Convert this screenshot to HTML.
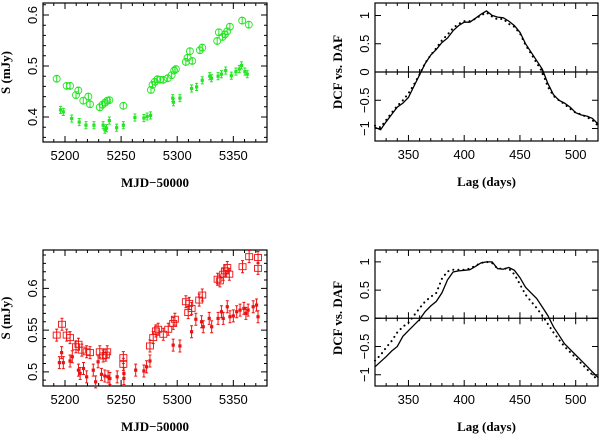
<!DOCTYPE html>
<html><head><meta charset="utf-8"><style>
body{margin:0;background:#fff;width:600px;height:436px;overflow:hidden}
svg text{font-family:"Liberation Sans",sans-serif;font-size:13px;fill:#000}
.t{font-family:"Liberation Serif",serif;font-weight:bold;font-size:13px}
</style></head><body>
<svg id="c" width="600" height="436" xmlns="http://www.w3.org/2000/svg"></svg>
<script>
const g1OpenX=[5192.6,5201.5,5204.5,5209.8,5211.9,5216.3,5220.8,5222.3,5231,5233.4,5235.6,5237.7,5239.5,5252,5276.6,5278,5280,5282.3,5284.6,5287.6,5291.5,5295,5297.3,5298.8,5307.7,5309.2,5311.3,5313.4,5320.2,5322.3,5335.6,5337.1,5340.4,5342.5,5344.5,5346.9,5357.9,5363.8];
const g1OpenY=[0.475,0.461,0.461,0.443,0.452,0.432,0.440,0.425,0.419,0.424,0.428,0.432,0.433,0.422,0.453,0.463,0.469,0.474,0.473,0.473,0.476,0.482,0.491,0.494,0.508,0.516,0.529,0.510,0.531,0.536,0.549,0.566,0.557,0.562,0.568,0.577,0.589,0.581];
const g1FillX=[5196,5198.5,5206,5212.7,5218.7,5225.8,5234,5235.5,5237,5239.5,5246,5252,5262.3,5270.3,5273.2,5276.2,5296,5296.6,5302.4,5312.8,5317.3,5322.3,5329,5330.5,5336.4,5339.4,5343.2,5348.2,5352.3,5355.3,5357.3,5360.3,5362.4];
const g1FillY=[0.414,0.410,0.397,0.390,0.384,0.384,0.384,0.375,0.378,0.393,0.379,0.384,0.399,0.398,0.401,0.403,0.437,0.429,0.437,0.456,0.459,0.472,0.480,0.476,0.480,0.484,0.491,0.481,0.489,0.494,0.501,0.489,0.484];
const r1OpenX=[5192.6,5197.3,5201.5,5204.5,5209.8,5212,5215,5219.3,5222.3,5231,5234,5236.4,5237.6,5252,5252,5275.7,5278.6,5281,5283,5287.6,5292,5296.4,5297.9,5307.7,5309.8,5310.7,5312.8,5319.6,5322.3,5336,5338,5341,5342.5,5344.6,5346.4,5358.2,5364.1,5372,5372];
const r1OpenY=[0.544,0.557,0.544,0.541,0.530,0.533,0.526,0.524,0.523,0.524,0.519,0.520,0.524,0.517,0.509,0.531,0.541,0.549,0.551,0.545,0.551,0.558,0.563,0.584,0.571,0.582,0.576,0.586,0.592,0.611,0.609,0.617,0.621,0.625,0.617,0.626,0.638,0.637,0.624];
const r1FillX=[5195,5197,5198.5,5204.5,5206.5,5212,5213.5,5216.5,5219.3,5225.2,5227.3,5229.5,5232.5,5235.5,5238.4,5240,5246.5,5252.5,5252.5,5263,5270.3,5272.7,5275.7,5296.4,5302.4,5312.8,5316.6,5321.7,5323.2,5328.5,5330.7,5336.4,5339.4,5341,5344.6,5347,5350,5353,5356,5359.4,5361.2,5363.2,5367.7,5370.7,5372];
const r1FillY=[0.511,0.523,0.511,0.513,0.518,0.502,0.498,0.504,0.494,0.502,0.488,0.512,0.497,0.495,0.494,0.492,0.494,0.498,0.492,0.502,0.501,0.506,0.513,0.532,0.531,0.548,0.563,0.560,0.554,0.564,0.554,0.564,0.572,0.564,0.578,0.566,0.567,0.572,0.574,0.576,0.570,0.574,0.578,0.580,0.566];
const lags=[320,325,330,335,340,345,350,355,360,365,370,375,380,385,390,395,400,405,410,415,420,425,430,435,440,445,450,455,460,465,470,475,480,485,490,495,500,505,510,515,520];
const dcfTopSolid=[-0.98,-1.02,-0.88,-0.75,-0.62,-0.55,-0.45,-0.25,-0.05,0.15,0.3,0.4,0.52,0.6,0.73,0.82,0.88,0.88,0.95,1.02,1.08,1.0,0.97,0.96,0.9,0.82,0.7,0.5,0.35,0.2,0.05,-0.2,-0.4,-0.5,-0.55,-0.62,-0.72,-0.76,-0.78,-0.82,-0.92];
const dcfTopDot=[-0.95,-0.98,-0.85,-0.72,-0.6,-0.5,-0.38,-0.22,-0.04,0.16,0.3,0.42,0.56,0.66,0.78,0.85,0.9,0.9,0.94,1.0,1.05,0.98,0.93,0.94,0.85,0.8,0.68,0.48,0.32,0.16,0.0,-0.26,-0.42,-0.5,-0.57,-0.65,-0.72,-0.75,-0.8,-0.85,-0.95];
const dcfBotSolid=[-0.86,-0.77,-0.68,-0.58,-0.5,-0.32,-0.22,-0.12,-0.02,0.12,0.22,0.3,0.45,0.68,0.82,0.84,0.85,0.86,0.92,0.98,1.0,1.0,0.88,0.87,0.9,0.85,0.72,0.55,0.45,0.35,0.2,0.05,-0.15,-0.3,-0.45,-0.55,-0.65,-0.75,-0.85,-0.95,-1.05];
const dcfBotDot=[-0.75,-0.65,-0.52,-0.4,-0.25,-0.15,-0.08,0.05,0.18,0.3,0.38,0.45,0.7,0.83,0.86,0.86,0.86,0.88,0.93,0.98,1.0,0.98,0.88,0.88,0.88,0.78,0.6,0.42,0.3,0.18,0.05,-0.1,-0.25,-0.38,-0.5,-0.6,-0.7,-0.8,-0.9,-1.0,-1.1];

const NS="http://www.w3.org/2000/svg",svg=document.getElementById('c');
function mk(t,a,p){const e=document.createElementNS(NS,t);for(const k in a)e.setAttribute(k,a[k]);(p||svg).appendChild(e);return e;}
function panel(P){
  const gr=mk('g',{});
  
  
  const sx=v=>P.x0+(v-P.xd[0])/(P.xd[1]-P.xd[0])*(P.x1-P.x0);
  const sy=v=>P.y1-(v-P.yd[0])/(P.yd[1]-P.yd[0])*(P.y1-P.y0);
  P.sx=sx;P.sy=sy;P.g=gr;
  const fr=mk('rect',{x:P.x0,y:P.y0,width:P.x1-P.x0,height:P.y1-P.y0,fill:'none',stroke:'#000','stroke-width':1.2},gr);
  
  
  const ts=[];
  for(let v=Math.ceil(P.xd[0]/P.xm)*P.xm;v<=P.xd[1];v+=P.xm){const maj=Math.abs(v/P.xM-Math.round(v/P.xM))<1e-6,L=maj?6:3,x=sx(v);
    ts.push(`M${x},${P.y1}v${-L}M${x},${P.y0}v${L}`);
    if(P.zero)ts.push(`M${x},${sy(0)-L}v${2*L}`);
    if(maj){const t=mk('text',{x:x,y:P.y1+18,'text-anchor':'middle'},gr);t.textContent=P.xfmt(v);
      
      }}
  for(let v=Math.ceil((P.yd[0]-1e-9)/P.ym)*P.ym;v<=P.yd[1]+1e-9;v+=P.ym){const maj=Math.abs(v/P.yM-Math.round(v/P.yM))<1e-6,L=maj?6:3,y=sy(v);
    ts.push(`M${P.x0},${y}h${L}M${P.x1},${y}h${-L}`);
    if(maj){const vv=Math.round(v*1000)/1000;const t=mk('text',{x:P.x0-6,y:y,'text-anchor':'middle',transform:`rotate(-90 ${P.x0-6} ${y})`},gr);t.textContent=(vv<0?'\u2212'+(-vv):''+vv);
      
      }}
  mk('path',{d:ts.join(''),stroke:'#000','stroke-width':1,fill:'none'},gr);
  if(P.zero){const z=mk('line',{x1:P.x0,x2:P.x1,y1:sy(0),y2:sy(0),stroke:'#000','stroke-width':1.2},gr);
    
    }
  const xt=mk('text',{x:(P.x0+P.x1)/2,y:P.y1+45,'text-anchor':'middle',class:'t'},gr);xt.textContent=P.xl;
  
  
  const yx=P.x0-33,yy=(P.y0+P.y1)/2;
  const yt=mk('text',{x:yx,y:yy,'text-anchor':'middle',class:'t',transform:`rotate(-90 ${yx} ${yy})`},gr);yt.textContent=P.yl;
  
  
  return P;
}
function scatter(P,X,Y,col,open,err,nm){
  const g=mk('g',{},P.g);
  
  
  X.forEach((xv,i)=>{const x=P.sx(xv),y=P.sy(Y[i]);const e=(P.sy(0)-P.sy(err))||0;
    mk('path',{d:`M${x},${y-e-1}V${y+e+1}M${x-1.5},${y-e-1}h3M${x-1.5},${y+e+1}h3`,stroke:col,'stroke-width':1},g);
    let m;
    if(open==='c')m=mk('circle',{cx:x,cy:y,r:3.5,fill:'none',stroke:col,'stroke-width':0.9},g);
    else if(open==='s')m=mk('rect',{x:x-3.5,y:y-3,width:7,height:6,fill:'none',stroke:col,'stroke-width':0.9},g);
    else m=mk('rect',{x:x-1.6,y:y-1.6,width:3.2,height:3.2,fill:col},g);
    
    
  });
}
function line(P,X,Y,dash,nm){
  const d=X.map((v,i)=>(i?'L':'M')+P.sx(v).toFixed(1)+','+P.sy(Y[i]).toFixed(1)).join('');
  const l=mk('path',{d:d,fill:'none',stroke:'#000','stroke-width':dash?2:1.3,'stroke-dasharray':dash?'0.1 5':'none','stroke-linecap':'round'},P.g);
  
  
}
const fx=v=>''+v;
const TL=panel({name:'green-lightcurve-panel',x0:43,x1:267,y0:3,y1:142,xd:[5180.4,5380],yd:[0.351,0.6235],xm:10,xM:50,ym:0.02,yM:0.1,xfmt:fx,xl:'MJD\u221250000',yl:'S (mJy)'});
scatter(TL,g1OpenX,g1OpenY,'#22e622','c',0.004,'green-open-series');
scatter(TL,g1FillX,g1FillY,'#22e622','f',0.005,'green-filled-series');
const BL=panel({name:'red-lightcurve-panel',x0:43,x1:267,y0:250,y1:386,xd:[5180.4,5380],yd:[0.483,0.646],xm:10,xM:50,ym:0.01,yM:0.05,xfmt:fx,xl:'MJD\u221250000',yl:'S (mJy)'});
scatter(BL,r1OpenX,r1OpenY,'#ee1111','s',0.006,'red-open-series');
scatter(BL,r1FillX,r1FillY,'#ee1111','f',0.006,'red-filled-series');
const TR=panel({name:'green-dcf-panel',x0:375,x1:598,y0:3,y1:141,xd:[320,520],yd:[-1.22,1.22],xm:10,xM:50,ym:0.5,yM:0.5,xfmt:fx,xl:'Lag (days)',yl:'DCF vs. DAF',zero:true});
line(TR,lags,dcfTopSolid,false,'dcf-line');
line(TR,lags,dcfTopDot,true,'daf-dotted-line');
const BR=panel({name:'red-dcf-panel',x0:375,x1:598,y0:250,y1:386,xd:[320,520],yd:[-1.2,1.21],xm:10,xM:50,ym:0.5,yM:0.5,xfmt:fx,xl:'Lag (days)',yl:'DCF vs. DAF',zero:true});
line(BR,lags,dcfBotSolid,false,'dcf-line');
line(BR,lags,dcfBotDot,true,'daf-dotted-line');
</script>
</body></html>
